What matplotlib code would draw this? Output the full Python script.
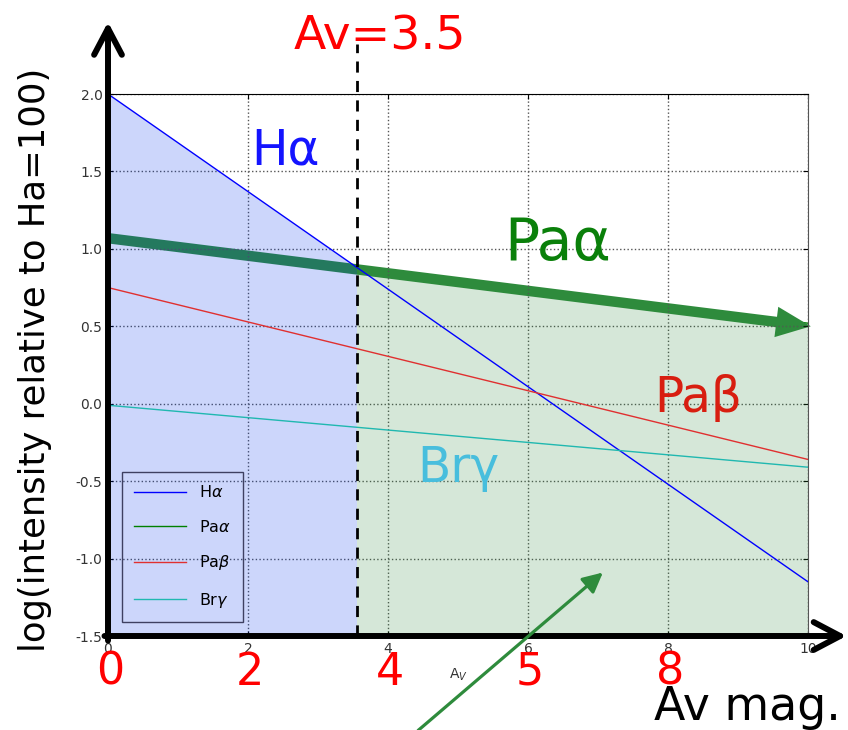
import numpy as np
import matplotlib
matplotlib.use('Agg')
import matplotlib.pyplot as plt
from matplotlib.patches import FancyArrowPatch

# line intensities vs extinction, log scale relative to Ha = 100
av = [0, 10]
ha = [2.0, -1.15]
paa = [1.07, 0.52]
pab = [0.75, -0.36]
brg = [-0.01, -0.41]
av_cut = 3.55

red_ticks = [0, 2, 4, 6, 8]
red_labels = ['0', '2', '4', '5', '8']

GREEN = '#2e8b3c'

fig = plt.figure(figsize=(8.48, 7.3), dpi=100)
ax = fig.add_axes([108/848, 1 - 636/730, 700/848, 542/730])

ax.plot(av, ha, color='b', lw=1, label=r'H$\alpha$', zorder=3)
ax.plot(av, paa, color='g', lw=1, label=r'Pa$\alpha$', zorder=0.5)
ax.plot(av, pab, color='#e03030', lw=1, label=r'Pa$\beta$', zorder=3)
ax.plot(av, brg, color='#20b8b0', lw=1, label=r'Br$\gamma$', zorder=3)

# thick Pa-alpha arrow, drawn under the shading
arr = FancyArrowPatch((av[0] - 0.02, paa[0]), (av[1] + 0.04, paa[1] - 0.02),
                      arrowstyle='simple,head_length=25,head_width=22,tail_width=7.5',
                      mutation_scale=1, color=GREEN, lw=0, zorder=1,
                      shrinkA=0, shrinkB=0, clip_on=False)
ax.add_patch(arr)

xb = np.linspace(av[0], av_cut, 50)
ax.fill_between(xb, -1.5, np.interp(xb, av, ha), color=(0, 0.2, 0.92), alpha=0.2, lw=0, zorder=2)
xg = np.linspace(av_cut, av[1], 50)
ax.fill_between(xg, -1.5, np.interp(xg, av, paa), color=GREEN, alpha=0.2, lw=0, zorder=2)

ax.plot([av_cut, av_cut], [-1.5, 2.32], color='k', lw=2, ls=(0, (4, 3)), clip_on=False, zorder=4)

ax.set_xlim(0, 10)
ax.set_ylim(-1.5, 2.0)
ax.set_xticks([0, 2, 4, 6, 8, 10])
ax.set_yticks(np.arange(-1.5, 2.01, 0.5))
ax.set_yticklabels(['%.1f' % v for v in np.arange(-1.5, 2.01, 0.5)])
ax.tick_params(direction='in', top=True, right=True, labelsize=10, labelcolor='#333333', pad=4)
ax.grid(True, ls=':', color='#555555', lw=1)
ax.set_xlabel(r'A$_V$', fontsize=10, color='#333333', labelpad=8)
ax.spines['right'].set_color('#555555')

leg = ax.legend(loc='lower left', fontsize=11.5, handlelength=3.3, labelspacing=1.15,
                borderpad=0.75, frameon=True, fancybox=False,
                bbox_to_anchor=(0.008, 0.012))
leg.get_frame().set_facecolor('none')
leg.get_frame().set_edgecolor('#1a1a3a')

# big axis arrows
ax.annotate('', xy=(0, 2.465), xytext=(0, -1.53), annotation_clip=False,
            arrowprops=dict(arrowstyle='->,head_length=1.9,head_width=1.0',
                            mutation_scale=10, lw=4.3, color='k',
                            shrinkA=0, shrinkB=0, capstyle='round'))
ax.annotate('', xy=(10.55, -1.5), xytext=(-0.05, -1.5), annotation_clip=False,
            arrowprops=dict(arrowstyle='->,head_length=1.9,head_width=1.0',
                            mutation_scale=10, lw=4.3, color='k',
                            shrinkA=0, shrinkB=0, capstyle='round'))

# thin green pointer from below
ax.annotate('', xy=(7.07, -1.09), xytext=(4.43, -2.11), annotation_clip=False,
            arrowprops=dict(arrowstyle='-|>,head_length=1.0,head_width=0.5',
                            mutation_scale=12, lw=2.3, color=GREEN,
                            shrinkA=0, shrinkB=0))

# labels
ax.text(2.53, 1.545, 'Hα', color='#1414ff', fontsize=35, ha='center', va='baseline')
ax.text(6.43, 0.93, 'Paα', color='#0a800a', fontsize=42, ha='center', va='baseline')
ax.text(8.43, -0.053, 'Paβ', color='#d81e10', fontsize=35, ha='center', va='baseline')
ax.text(5.0, -0.505, 'Brγ', color='#48bedd', fontsize=35, ha='center', va='baseline')
ax.text(3.89, 2.29, 'Av=3.5', color='red', fontsize=34, ha='center', va='baseline', clip_on=False)

for t, l in zip(red_ticks, red_labels):
    ax.text(t + 0.03, -1.816, l, color='red', fontsize=32, ha='center', va='baseline', clip_on=False)

ax.text(9.14, -2.04, 'Av mag.', color='k', fontsize=33, ha='center', va='baseline', clip_on=False)

fig.text(35/848, 1 - 360/730, 'log(intensity relative to Ha=100)', rotation=90,
         fontsize=25.5, ha='center', va='center')

fig.savefig('out.png', dpi=100)
